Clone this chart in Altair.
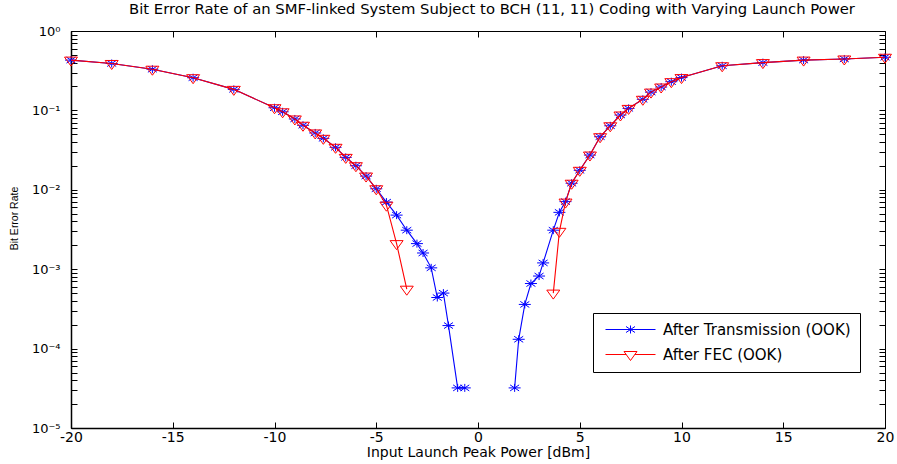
import altair as alt
import pandas as pd

# ---------------- data ----------------
series_names = ["After Transmission (OOK)", "After FEC (OOK)"]

tx_left_x = [-20, -18, -16, -14, -12, -10, -9.6, -9, -8.6, -8, -7.6, -7, -6.5, -6,
             -5.5, -5, -4.5, -4, -3.5, -3, -2.7, -2.3, -2, -1.7, -1.45, -1, -0.65]
tx_left_ber = [0.43, 0.39, 0.33, 0.258, 0.184, 0.108, 0.096, 0.078, 0.065, 0.052,
               0.0445, 0.0343, 0.0256, 0.0201, 0.0149, 0.0103, 0.0070, 0.0048,
               0.0031, 0.0021, 0.0016, 0.00104, 0.00044, 0.0005, 0.000195,
               3.2e-5, 3.2e-5]
tx_right_x = [1.8, 2, 2.3, 2.6, 3, 3.2, 3.7, 4, 4.3, 4.6, 5, 5.5, 6, 6.5, 7, 7.4,
              8.1, 8.5, 9, 9.5, 10, 12, 14, 16, 18, 20]
tx_right_ber = [3.2e-5, 0.000131, 0.00036, 0.00066, 0.00082, 0.0012, 0.0031,
                0.0052, 0.0071, 0.0121, 0.0176, 0.0274, 0.0466, 0.064, 0.0875,
                0.106, 0.138, 0.170, 0.197, 0.23, 0.259, 0.365, 0.40, 0.43,
                0.444, 0.467]

fec_left_x = [-20, -18, -16, -14, -12, -10, -9.6, -9, -8.6, -8, -7.6, -7, -6.5, -6,
              -5.5, -5, -4.5, -4, -3.5]
fec_left_ber = [0.43, 0.39, 0.33, 0.258, 0.184, 0.108, 0.096, 0.078, 0.065, 0.052,
                0.0445, 0.0343, 0.0256, 0.0201, 0.0149, 0.0103, 0.0064, 0.0021,
                0.00056]
fec_right_x = [3.7, 4, 4.3, 4.6, 5, 5.5, 6, 6.5, 7, 7.4, 8.1, 8.5, 9, 9.5, 10, 12,
               14, 16, 18, 20]
fec_right_ber = [0.0005, 0.0030, 0.0070, 0.0121, 0.0176, 0.0274, 0.0466, 0.064,
                 0.0875, 0.106, 0.138, 0.170, 0.197, 0.23, 0.259, 0.365, 0.40,
                 0.43, 0.444, 0.467]

x_ticks = [-20, -15, -10, -5, 0, 5, 10, 15, 20]
y_major = [1e-5, 1e-4, 1e-3, 1e-2, 1e-1, 1.0]
y_major_labels = ["10⁻⁵", "10⁻⁴", "10⁻³", "10⁻²", "10⁻¹", "10⁰"]
y_all_ticks = [m * 10.0 ** k for k in range(-5, 0) for m in range(1, 10)] + [1.0]

title_text = ("Bit Error Rate of an SMF-linked System Subject to BCH (11, 11) "
              "Coding with Varying Launch Power")

# ---------------- table ----------------
rows = []
for s, seg, xs_, ys_ in [
    (series_names[0], "tx_l", tx_left_x, tx_left_ber),
    (series_names[0], "tx_r", tx_right_x, tx_right_ber),
    (series_names[1], "fec_l", fec_left_x, fec_left_ber),
    (series_names[1], "fec_r", fec_right_x, fec_right_ber),
]:
    for xv, yv in zip(xs_, ys_):
        rows.append({"series": s, "seg": seg, "x": xv, "ber": yv})
df = pd.DataFrame(rows)

W, H = 814, 397
FONT = "DejaVu Sans"
BLUE, RED = "#0000ff", "#ff0000"
TICK = 6

star_path = "M-6,0L6,0M0,-4L0,4M-4.5,-3L4.5,3M-4.5,3L4.5,-3"
tri_path = "M-6.5,-3L6.5,-3L0,6Z"
# legend symbols: a 50 px line with the marker in its middle (centre at x=21)
leg_star = ("M-4,0L46,0M15,0L27,0M21,-4L21,4M16.5,-3L25.5,3M16.5,3L25.5,-3")
leg_tri = "M-4,0L16.7,0M25.3,0L46,0M14.5,-3L27.5,-3L21,6Z"

xs = alt.Scale(domain=[-20, 20], nice=False, zero=False)
ys = alt.Scale(type="log", domain=[1e-5, 1], nice=False)

x_label_expr = "datum.value < 0 ? '-' + (-datum.value) : '' + datum.value"
y_label_expr = ("[" + ",".join("'" + t + "'" for t in y_major_labels) +
                "][round(log(datum.value)/LN10)+5]")

base = alt.Chart(df)

# layer 1: blue line + labelled axes (bottom / left)
blue_line = base.transform_filter(alt.datum.series == series_names[0]).mark_line(
    color=BLUE, strokeWidth=1.1
).encode(
    x=alt.X("x:Q", scale=xs, axis=alt.Axis(
        orient="bottom", values=x_ticks, labelExpr=x_label_expr, tickSize=0,
        grid=False, domain=True, domainColor="black", domainWidth=1.5,
        labelFlush=False, labelOverlap=False,
        labelFont=FONT, labelFontSize=14, labelColor="black", labelPadding=2,
        title="Input Launch Peak Power [dBm]", titleFont=FONT, titleFontSize=14,
        titleFontWeight="normal", titleColor="black", titlePadding=1)),
    y=alt.Y("ber:Q", scale=ys, axis=alt.Axis(
        orient="left", values=y_major, labelExpr=y_label_expr, tickSize=0,
        grid=False, domain=True, domainColor="black", domainWidth=1.5,
        labelFlush=False, labelOverlap=False,
        labelFont=FONT, labelFontSize=13, labelColor="black", labelPadding=11,
        title="Bit Error Rate", titleFont="Liberation Sans", titleFontSize=10.5,
        titleFontWeight="normal", titleColor="black",
        titleX=-57, titleY=187, titleAngle=270, titleAlign="center",
        titleBaseline="middle")),
    detail="seg:N",
)

# layer 2: blue markers + inward ticks on bottom and left edges
blue_pts = base.transform_filter(alt.datum.series == series_names[0]).mark_point(
    shape=star_path, size=4, filled=False, color=BLUE, strokeWidth=1, opacity=1
).encode(
    x=alt.X("x:Q", scale=xs, axis=alt.Axis(
        orient="top", offset=-H, values=x_ticks, labels=False, tickSize=TICK,
        tickColor="black", tickWidth=1, grid=False, domain=False, title=None)),
    y=alt.Y("ber:Q", scale=ys, axis=alt.Axis(
        orient="right", offset=-W, values=y_all_ticks, labels=False, tickSize=TICK,
        tickColor="black", tickWidth=1, grid=False, domain=False, title=None)),
)

# layer 3: red line + inward ticks on top and right edges
red_line = base.transform_filter(alt.datum.series == series_names[1]).mark_line(
    color=RED, strokeWidth=1.1
).encode(
    x=alt.X("x:Q", scale=xs, axis=alt.Axis(
        orient="bottom", offset=-H, values=x_ticks, labels=False, tickSize=TICK,
        tickColor="black", tickWidth=1, grid=False, domain=False, title=None)),
    y=alt.Y("ber:Q", scale=ys, axis=alt.Axis(
        orient="left", offset=-W, values=y_all_ticks, labels=False, tickSize=TICK,
        tickColor="black", tickWidth=1, grid=False, domain=False, title=None)),
    detail="seg:N",
)

# layer 4: red markers
red_pts = base.transform_filter(alt.datum.series == series_names[1]).mark_point(
    shape=tri_path, size=4, filled=False, color=RED, strokeWidth=1, opacity=1
).encode(
    x=alt.X("x:Q", scale=xs, axis=None),
    y=alt.Y("ber:Q", scale=ys, axis=None),
)

# layer 5: legend only (no rows drawn)
leg = alt.Legend(
    orient="none", legendX=522, legendY=282, title=None,
    strokeColor="black", fillColor="white", padding=9,
    symbolSize=4, symbolOffset=0, symbolStrokeWidth=1, labelOffset=46,
    labelFont=FONT, labelFontSize=15, labelColor="black", labelLimit=400,
    rowPadding=9,
)
legend_layer = base.transform_filter("false").mark_point(
    filled=False, size=4, strokeWidth=1, opacity=1
).encode(
    x=alt.X("x:Q", scale=xs, axis=None),
    y=alt.Y("ber:Q", scale=ys, axis=None),
    color=alt.Color("series:N", scale=alt.Scale(domain=series_names, range=[BLUE, RED]),
                    legend=leg),
    shape=alt.Shape("series:N", scale=alt.Scale(domain=series_names,
                                                range=[leg_star, leg_tri]),
                    legend=leg),
)

chart = alt.layer(blue_line, blue_pts, red_line, red_pts, legend_layer).resolve_scale(
    x="shared", y="shared"
).resolve_axis(
    x="independent", y="independent"
).properties(
    width=W, height=H,
    padding={"left": 71, "top": 31, "right": 12, "bottom": 36},
    autosize=alt.AutoSizeParams(type="none"),
    title=alt.TitleParams(text=title_text, font=FONT, fontSize=14.8,
                          fontWeight="normal", color="black", anchor="middle",
                          frame="group", offset=8, dx=14),
    background="white",
).configure_view(stroke="black", strokeWidth=1)

chart.save("out.html", embed_options={"renderer": "svg", "actions": False})
